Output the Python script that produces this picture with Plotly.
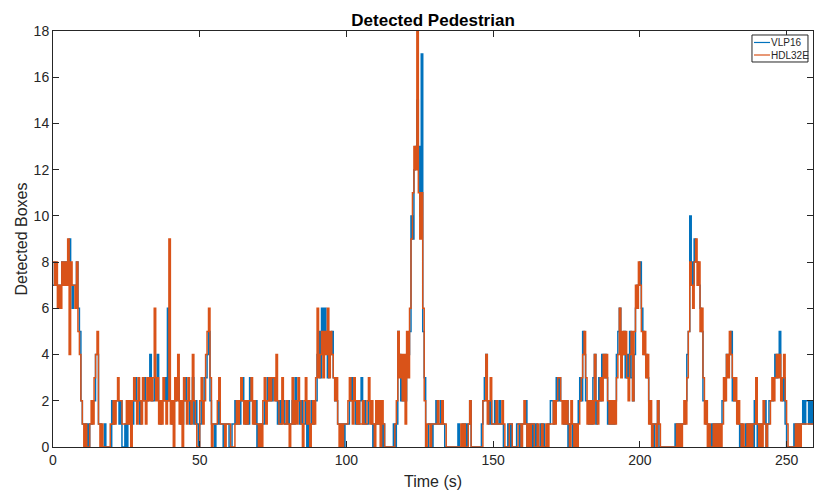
import plotly.graph_objects as go

# Detected boxes per 0.5 s sample (one line per 10 s)
vlp16 = [
    7,8,7,7,6,7,8,8,7,8,7,9,7,6,7,7,8,6,5,2,
    1,1,0,1,0,1,1,2,2,4,4,1,1,0,0,1,0,0,0,0,
    2,1,2,2,2,1,2,0,0,1,0,1,1,2,1,2,3,2,2,1,
    2,2,3,2,2,3,4,2,2,3,3,4,2,1,2,2,3,2,6,2,
    2,1,2,2,3,3,2,1,1,2,3,2,2,1,2,3,1,2,1,0,
    1,2,2,3,3,4,5,2,1,1,0,1,1,2,1,1,0,1,1,1,
    0,0,1,1,2,1,2,1,2,3,2,1,2,1,3,2,2,1,2,0,
    1,0,1,1,2,2,3,2,3,2,3,3,2,1,2,1,2,2,1,1,
    2,1,1,2,1,3,2,2,1,2,1,1,2,0,1,1,2,1,2,2,
    4,5,3,6,4,6,5,3,4,4,5,3,2,2,1,1,0,1,0,1,
    1,1,2,3,2,2,1,2,1,2,3,1,2,1,1,2,2,1,0,1,
    1,2,1,1,0,1,0,0,0,0,0,0,1,0,1,5,4,2,3,2,
    2,4,4,5,10,9,12,13,15,13,10,17,5,3,0,0,1,1,0,1,
    1,2,1,1,2,1,1,0,0,0,0,0,0,0,0,0,1,0,0,1,
    0,1,0,1,2,0,0,0,0,0,0,0,1,2,3,4,2,1,2,1,
    1,2,1,1,2,1,1,0,0,0,1,0,1,0,0,0,1,1,0,1,
    1,1,2,0,1,1,0,1,0,1,0,0,1,0,1,0,0,1,1,2,
    2,1,2,3,2,3,2,2,1,1,2,0,1,1,0,1,0,1,2,3,
    2,5,4,2,2,1,2,1,3,4,1,2,3,2,4,3,4,3,1,2,
    1,2,1,2,4,5,6,4,4,5,3,4,3,5,3,2,4,6,7,7,
    8,6,5,4,4,3,2,1,1,0,1,1,2,0,0,0,0,0,0,0,
    0,0,0,0,1,0,1,0,1,1,1,2,4,5,10,8,7,9,8,8,
    7,6,5,2,2,1,1,0,0,1,0,1,0,1,0,1,2,2,3,4,
    4,4,5,2,3,2,2,1,0,1,0,0,1,0,1,0,1,0,2,1,
    0,1,0,1,1,2,0,1,2,2,2,3,4,3,4,5,3,2,3,1,
    0,0,0,0,0,1,0,1,0,1,1,2,1,2,2,1,2,1,2,
]

hdl32e = [
    8,7,8,6,7,6,8,7,8,7,9,4,8,7,7,6,8,5,4,2,
    1,0,1,0,0,1,2,1,3,4,5,1,0,1,0,0,0,0,0,1,
    1,2,1,2,3,2,2,1,1,1,2,1,2,0,2,3,2,1,3,2,
    1,3,2,1,3,2,3,2,3,6,2,3,1,2,1,3,2,1,2,9,
    1,2,0,3,2,4,1,2,0,3,2,1,3,2,1,4,2,1,0,0,
    2,3,1,2,4,5,6,3,0,1,1,1,2,3,1,1,1,0,1,1,
    1,0,0,0,1,2,1,2,3,2,1,2,1,2,2,3,1,2,1,1,
    0,1,0,2,3,1,2,3,2,3,3,2,4,2,1,1,3,1,1,2,
    1,0,1,3,1,2,1,3,2,1,0,2,3,1,2,0,1,2,1,3,
    6,3,4,5,3,5,4,6,3,5,4,3,2,3,1,0,1,0,1,1,
    1,2,3,2,1,3,2,1,2,1,1,2,1,1,2,3,1,2,1,0,
    2,1,2,0,2,1,0,0,0,0,0,0,0,1,2,5,3,4,2,4,
    1,5,3,6,9,11,13,12,18,11,9,11,6,2,0,1,1,0,1,1,
    1,1,2,1,1,2,1,1,0,0,0,0,0,0,0,0,0,0,1,0,
    1,0,0,1,2,0,0,0,0,0,0,0,0,2,2,4,1,2,3,1,
    1,1,2,1,1,1,2,1,0,0,0,1,1,0,0,0,0,1,1,0,
    1,2,1,0,1,0,1,1,0,0,1,0,0,1,0,0,1,0,1,1,
    1,2,1,2,3,3,2,1,2,1,2,1,0,2,1,0,1,0,1,2,
    3,4,5,3,1,2,1,2,1,4,2,1,2,3,2,4,3,4,2,1,
    2,1,2,1,3,4,6,3,5,4,5,3,2,4,5,2,5,7,6,8,
    7,5,4,5,3,4,1,2,0,1,1,0,2,1,0,0,0,0,0,0,
    0,0,0,0,0,1,0,1,0,1,2,1,3,5,8,7,6,8,9,7,
    8,5,6,3,1,2,0,1,0,0,1,0,1,0,1,0,1,3,2,4,
    3,5,4,3,2,3,1,2,1,0,1,0,0,1,0,1,0,1,1,3,
    1,0,1,0,2,1,0,1,1,2,3,2,3,4,3,4,2,3,4,2,
    1,0,0,0,0,0,1,0,1,0,1,1,1,1,1,1,1,1,1,
]

series_names = ["VLP16", "HDL32E"]
series_colors = ["#0072BD", "#D95319"]

sample_step = 0.5
t_vlp = [i * sample_step for i in range(len(vlp16))]
t_hdl = [i * sample_step for i in range(len(hdl32e))]

AX = "#262626"
FONT = "Liberation Sans, Arial, Helvetica, sans-serif"

fig = go.Figure()
for t, y, name, col in zip([t_vlp, t_hdl], [vlp16, hdl32e], series_names, series_colors):
    fig.add_trace(go.Scatter(x=t, y=y, mode="lines", name=name,
                             line=dict(color=col, width=1.5, shape="hv")))

axis_common = dict(showline=True, linecolor=AX, linewidth=1, mirror="ticks",
                   ticks="inside", ticklen=6, tickcolor=AX, tickwidth=1,
                   showgrid=False, zeroline=False,
                   tickfont=dict(family=FONT, size=14, color=AX))

# custom compact legend (MATLAB style)
shapes = [dict(type="rect", xref="paper", yref="paper",
               x0=0.9197, x1=0.9934, y0=0.9255, y1=0.9904,
               line=dict(color=AX, width=1), fillcolor="white", layer="above")]
annotations = []
legend_rows_y = [0.9724, 0.9423]
for name, col, ly in zip(series_names, series_colors, legend_rows_y):
    shapes.append(dict(type="line", xref="paper", yref="paper",
                       x0=0.9224, x1=0.9434, y0=ly, y1=ly,
                       line=dict(color=col, width=1.2), layer="above"))
    annotations.append(dict(xref="paper", yref="paper", x=0.9415, y=ly,
                            xanchor="left", yanchor="middle", showarrow=False,
                            text=name, font=dict(family=FONT, size=10, color=AX)))

fig.update_layout(
    width=814, height=495,
    margin=dict(l=53, r=1, t=31, b=48),
    paper_bgcolor="white", plot_bgcolor="white",
    font=dict(family=FONT, color=AX),
    title=dict(text="<b>Detected Pedestrian</b>", x=0.532, xanchor="center",
               y=0.96, yanchor="middle",
               font=dict(family=FONT, size=17, color="black")),
    xaxis=dict(range=[0, 259], tickvals=[0, 50, 100, 150, 200, 250],
               title=dict(text="Time (s)", font=dict(family=FONT, size=16, color=AX),
                          standoff=9),
               **axis_common),
    yaxis=dict(range=[0, 18], tickvals=list(range(0, 19, 2)),
               title=dict(text="Detected Boxes", font=dict(family=FONT, size=16, color=AX),
                          standoff=2),
               **axis_common),
    shapes=shapes,
    annotations=annotations,
    showlegend=False,
)

fig.write_html("out.html")
